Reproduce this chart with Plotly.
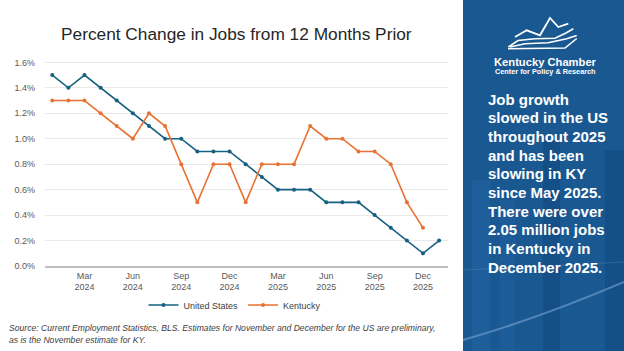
import plotly.graph_objects as go

months = ["Jan 2024", "Feb 2024", "Mar 2024", "Apr 2024", "May 2024", "Jun 2024",
          "Jul 2024", "Aug 2024", "Sep 2024", "Oct 2024", "Nov 2024", "Dec 2024",
          "Jan 2025", "Feb 2025", "Mar 2025", "Apr 2025", "May 2025", "Jun 2025",
          "Jul 2025", "Aug 2025", "Sep 2025", "Oct 2025", "Nov 2025", "Dec 2025",
          "Jan 2026"]
us_values = [1.5, 1.4, 1.5, 1.4, 1.3, 1.2, 1.1, 1.0, 1.0, 0.9, 0.9, 0.9,
             0.8, 0.7, 0.6, 0.6, 0.6, 0.5, 0.5, 0.5, 0.4, 0.3, 0.2, 0.1, 0.2]
ky_values = [1.3, 1.3, 1.3, 1.2, 1.1, 1.0, 1.2, 1.1, 0.8, 0.5, 0.8, 0.8,
             0.5, 0.8, 0.8, 0.8, 1.1, 1.0, 1.0, 0.9, 0.9, 0.8, 0.5, 0.3]
tick_months = ["Mar 2024", "Jun 2024", "Sep 2024", "Dec 2024",
               "Mar 2025", "Jun 2025", "Sep 2025", "Dec 2025"]
tick_labels = [m.replace(" ", "<br>") for m in tick_months]
y_ticks = [0.0, 0.2, 0.4, 0.6, 0.8, 1.0, 1.2, 1.4, 1.6]

W, H = 624, 351
L, R, T, B = 45, 176, 56, 85
PW, PH = W - L - R, H - T - B


def xp(px):
    return (px - L) / PW


def yp(py):
    return (H - B - py) / PH


US_COLOR = "#156082"
KY_COLOR = "#E97132"

fig = go.Figure()
fig.add_trace(go.Scatter(x=months, y=us_values, name="United States", mode="lines+markers",
                         line=dict(color=US_COLOR, width=1.6),
                         marker=dict(size=4, color=US_COLOR)))
fig.add_trace(go.Scatter(x=months[:len(ky_values)], y=ky_values, name="Kentucky",
                         mode="lines+markers",
                         line=dict(color=KY_COLOR, width=1.6),
                         marker=dict(size=4, color=KY_COLOR)))

shapes = []
# right panel
shapes.append(dict(type="rect", xref="paper", yref="paper", x0=xp(463), x1=xp(624),
                   y0=yp(351), y1=yp(0), fillcolor="#1a5892", line=dict(width=0), layer="below"))
for (a, b, top, col) in [(543, 560, 140, "#154f88"), (605, 624, 150, "#154f88"),
                         (472, 490, 180, "#1d5e9b"), (500, 515, 200, "#1c5c98")]:
    shapes.append(dict(type="rect", xref="paper", yref="paper", x0=xp(a), x1=xp(b),
                       y0=yp(351), y1=yp(top), fillcolor=col, line=dict(width=0), layer="below"))
# light swoosh line
shapes.append(dict(type="path", xref="paper", yref="paper",
                   path=f"M {xp(463)},{yp(340)} Q {xp(540)},{yp(318)} {xp(624)},{yp(282)}",
                   line=dict(color="rgba(150,190,230,0.45)", width=2)))
shapes.append(dict(type="path", xref="paper", yref="paper",
                   path=f"M {xp(463)},{yp(270)} L {xp(624)},{yp(262)}",
                   line=dict(color="rgba(150,190,230,0.2)", width=1)))


def poly(pts, width=1.6):
    d = "M " + " L ".join(f"{xp(x)},{yp(y)}" for x, y in pts)
    return dict(type="path", xref="paper", yref="paper", path=d,
                line=dict(color="white", width=width))


# logo
shapes.append(poly([(515, 37), (526.7, 30.3), (540, 35.3), (550, 18), (558.3, 27), (568.3, 23.7)], 1.8))
shapes.append(poly([(508.3, 47), (518, 40.5), (535, 38.7), (555, 38.2), (566, 33), (573.3, 28.7)], 1.6))
shapes.append(poly([(510, 47), (525, 43.7), (548, 42.7), (566.7, 38.7), (576.7, 35.5)], 1.6))
shapes.append(poly([(508, 48.7), (565, 48), (576.7, 38.5)], 1.6))

annotations = []
annotations.append(dict(text="Percent Change in Jobs from 12 Months Prior", xref="paper", yref="paper",
                        x=xp(236), y=yp(34), xanchor="center", yanchor="middle", showarrow=False,
                        font=dict(family="Liberation Sans", size=17.3, color="#262626")))
source_lines = ["Source: Current Employment Statistics, BLS. Estimates for November and December for the US are preliminary,",
                "as is the November estimate for KY."]
for i, s in enumerate(source_lines):
    annotations.append(dict(text=f"<i>{s}</i>", xref="paper", yref="paper",
                            x=xp(7), y=yp(328 + 12 * i), xanchor="left", yanchor="middle",
                            showarrow=False,
                            font=dict(family="Liberation Sans", size=8.6, color="#404040")))
annotations.append(dict(text="<b>Kentucky Chamber</b>", xref="paper", yref="paper",
                        x=xp(492), y=yp(62), xanchor="left", yanchor="middle", showarrow=False,
                        font=dict(family="Liberation Sans", size=11.2, color="white")))
annotations.append(dict(text="<b>Center for Policy & Research</b>", xref="paper", yref="paper",
                        x=xp(492.5), y=yp(72), xanchor="left", yanchor="middle", showarrow=False,
                        font=dict(family="Liberation Sans", size=7.3, color="white")))
panel_lines = ["Job growth", "slowed in the US", "throughout 2025", "and has been",
               "slowing in KY", "since May 2025.", "There were over", "2.05 million jobs",
               "in Kentucky in", "December 2025."]
for i, s in enumerate(panel_lines):
    annotations.append(dict(text=f"<b>{s}</b>", xref="paper", yref="paper",
                            x=xp(486), y=yp(99 + 18.7 * i), xanchor="left", yanchor="middle",
                            showarrow=False,
                            font=dict(family="Liberation Sans", size=15, color="white")))

fig.update_layout(
    width=W, height=H,
    margin=dict(l=L, r=R, t=T, b=B, pad=0),
    paper_bgcolor="white", plot_bgcolor="white",
    showlegend=True,
    legend=dict(orientation="h", x=xp(235), y=yp(305), xanchor="center", yanchor="middle",
                font=dict(family="Liberation Sans", size=9, color="#404040"),
                bgcolor="rgba(0,0,0,0)", itemwidth=30, tracegroupgap=0),
    xaxis=dict(type="category", range=[-0.45, 24.55], tickmode="array",
               tickvals=tick_months, ticktext=tick_labels, showgrid=False,
               showline=True, linecolor="#bfbfbf", linewidth=1.5, ticks="",
               tickfont=dict(family="Liberation Sans", size=9, color="#595959"),
               zeroline=False, fixedrange=True),
    yaxis=dict(range=[0, 1.65], tickmode="array", tickvals=y_ticks,
               ticktext=[f"{v:.1f}%" for v in y_ticks], showgrid=True, gridcolor="#e9e9e9",
               gridwidth=1, zeroline=False, showline=False, ticks="", ticklabelstandoff=9,
               tickfont=dict(family="Liberation Sans", size=9, color="#595959"),
               fixedrange=True),
    shapes=shapes,
    annotations=annotations,
)

fig.write_html("out.html")
